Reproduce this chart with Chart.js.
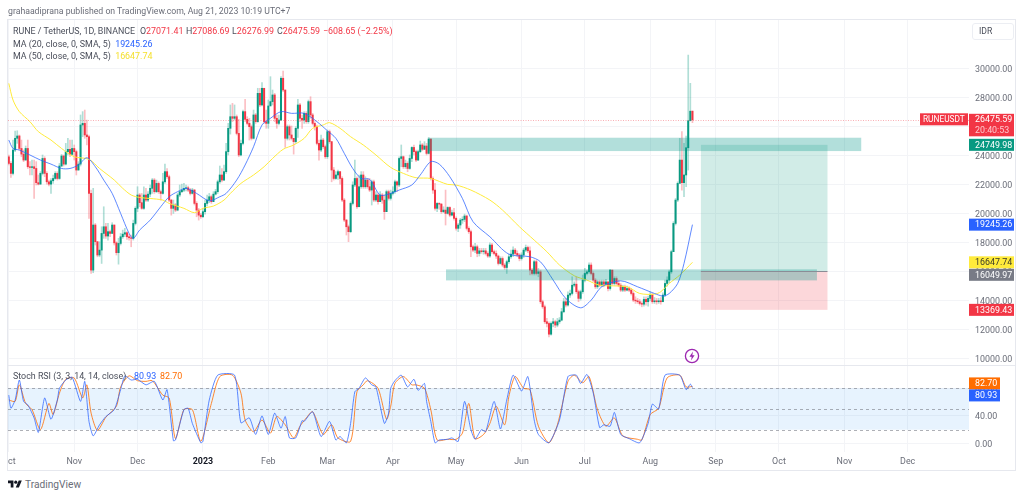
<!DOCTYPE html>
<html><head><meta charset="utf-8">
<script src="https://cdn.jsdelivr.net/npm/chart.js@4/dist/chart.umd.js"></script>
<style>
html,body{margin:0;padding:0;background:#fff;width:1024px;height:497px;overflow:hidden;font-family:Roboto,sans-serif}
canvas{position:absolute;left:8px}
#frame{position:absolute;left:7px;top:19px;width:1009px;height:452px;border:1px solid #e6e8ee;box-sizing:border-box}
#sep{position:absolute;left:7px;top:365px;width:1009px;height:1px;background:#e6e8ee}
.t{position:absolute;white-space:pre;font-size:8.9px;line-height:12px;color:#4a4e5a}
.r{color:#f23645}
#idr{position:absolute;left:972px;top:23px;width:42px;height:17px;border:1px solid #eceef3;border-radius:3px;box-sizing:border-box;font-size:8.6px;line-height:15px;color:#4a4e5a;padding-left:6px}
</style></head><body>
<div id="frame"></div>
<canvas id="top" width="1016" height="366" style="top:0"></canvas>
<canvas id="low" width="1016" height="106" style="top:366px"></canvas>
<div id="sep"></div>
<div class="t" style="left:8px;top:5px;color:#6a6d78;font-size:8.7px">grahaadiprana published on TradingView.com, Aug 21, 2023 10:19 UTC+7</div>
<div class="t" style="left:13px;top:25px">RUNE / TetherUS, 1D, BINANCE</div>
<div class="t" style="left:140px;top:25px">O<span class="r">27071.41</span></div>
<div class="t" style="left:186px;top:25px">H<span class="r">27086.69</span></div>
<div class="t" style="left:232px;top:25px">L<span class="r">26276.99</span></div>
<div class="t" style="left:277px;top:25px">C<span class="r">26475.59</span></div>
<div class="t r" style="left:323px;top:25px">−608.65 (−2.25%)</div>
<div class="t" style="left:13px;top:37.5px">MA (20, close, 0, SMA, 5)  <span style="color:#2962ff">19245.26</span></div>
<div class="t" style="left:13px;top:49.5px">MA (50, close, 0, SMA, 5)  <span style="color:#f5e02e">16647.74</span></div>
<div class="t" style="left:13px;top:370px">Stoch RSI (3, 3, 14, 14, close)</div>
<div class="t" style="left:134px;top:370px;color:#2962ff">80.93</div>
<div class="t" style="left:160px;top:370px;color:#ff6d00">82.70</div>
<div id="idr">IDR</div>
<svg style="position:absolute;left:684px;top:347.5px" width="16" height="16" viewBox="0 0 16 16"><circle cx="8" cy="8" r="6.6" fill="#fff" stroke="#9c27b0" stroke-width="1.3"/><path d="M9 3.6 5.4 8.8h2.3L7 12.4l3.6-5.2H8.3z" fill="#9c27b0"/></svg>
<svg style="position:absolute;left:8px;top:478.5px" width="14" height="11" viewBox="0 0 36 28"><path d="M14 22H7V11H0V4h14v18zM28 22h-8l7.5-18h8L28 22z" fill="#131722"/><circle cx="20" cy="8" r="4" fill="#131722"/></svg>
<div class="t" style="left:25px;top:478.5px;font-size:10.2px;color:#6a6d78">TradingView</div>
<script>
const firstOpen = 23930;
const closes = [
23470,22780,24390,25200,25360,24500,24110,23700,24500,23240,
23190,23240,23120,22140,22040,22780,23810,22780,22200,22040,
22270,22430,22780,22430,23290,23980,23420,24280,24440,24090,
24500,24280,23010,23420,26120,26230,25430,25310,21400,16110,
19220,18070,17150,17490,18640,19100,18460,18760,18640,19220,
17990,17310,17950,18410,18590,18690,18410,18340,18300,19330,
20370,21290,20760,20370,21290,20940,21350,21750,22320,21520,
22090,21520,21400,22200,22900,22550,20940,20370,20600,20250,
21290,21520,21630,21750,21790,21630,21400,21630,20710,20250,
19900,19790,20140,20710,20940,21170,20830,21350,21520,22200,
22670,22320,22900,24280,25890,26690,26580,26690,25540,24050,
24850,27040,26510,26230,26000,25200,26810,26350,28300,27500,
28650,26350,26230,27430,27730,28190,26580,26230,26460,29340,
28530,25200,26000,25430,25200,24970,25890,27500,26580,26460,
26920,26350,27730,26810,26230,26000,24850,24390,25080,24620,
23930,25660,24970,23010,22430,22670,22900,22430,20940,19560,
19100,18760,20710,21980,22430,20480,21860,22670,21860,22320,
21860,21630,22200,20940,21290,20830,21290,20940,20140,21520,
21060,21400,21520,22200,21980,23810,23930,23240,23470,23120,
23810,24570,24280,23700,24280,24740,24440,24670,24160,25150,
22430,21630,20370,20710,20660,20140,20250,20020,20430,19900,
20070,19680,18990,19220,19560,19610,19840,18990,18760,17720,
17490,17720,17260,17440,17380,17440,17260,17080,17840,17380,
17260,17080,16570,16910,16460,16290,16690,17030,17210,17490,
17260,17150,16910,17150,17490,17670,17440,16110,15880,16690,
15880,15990,13930,13580,12550,12430,11690,12430,12550,12320,
12550,12660,13240,13930,13700,14390,14500,15070,15140,14620,
14160,14620,15420,15880,15990,16460,15880,15420,14960,15300,
15070,15300,15140,15300,14840,16110,15190,15530,15190,15070,
14730,14960,14730,14840,14730,14500,14040,13990,13930,13810,
13760,14090,13930,14160,14390,13930,13990,13930,13990,13930,
14390,15190,15420,15990,17380,19330,20940,22090,23700,22140,
22670,24550,26410,27071.41,26475.59];
const highs = [
24050,23590,25080,25700,25720,25430,25080,24390,24670,25080,
23590,23700,23700,23590,22670,22900,24050,23930,22900,22320,
22430,22670,22900,22900,23470,24090,24050,24850,25200,25080,
25080,24740,24390,23590,26810,27040,27150,26460,25430,21630,
21750,19330,18070,18070,19100,20480,19330,19330,18870,19380,
19220,18070,18300,18640,18870,18990,18760,18590,18530,19560,
20480,21860,21400,21400,21860,21750,21520,21980,22430,22430,
22320,22200,21630,22780,23420,23120,22670,20990,20940,20710,
21400,21980,22040,22090,21980,21910,21750,21750,21680,20830,
20370,20020,20370,20940,21290,21400,21290,21520,21680,22320,
23290,23120,23360,24850,26230,27500,27610,27500,26810,26510,
25080,27150,27890,26690,26580,26120,27150,26920,28650,28650,
29040,28650,27150,27840,29450,28530,28300,26810,26810,29450,
29840,28530,26120,26120,26050,25200,26000,27890,27610,26810,
27040,27040,27840,28070,26920,26350,26120,25080,25430,25200,
24740,25770,25770,24970,23190,22900,23010,22900,22550,21050,
19610,19220,20820,22200,23700,22550,22670,22900,22900,22550,
22430,22430,22320,22320,21520,21400,21520,21400,21290,21630,
21630,21630,21860,22320,22270,23930,24740,23980,23700,23590,
24050,24620,24740,24390,24390,25010,24850,24970,24850,25260,
25150,22550,22090,20760,20760,20710,20480,21630,20480,20480,
20250,20370,19790,19330,19680,19790,19970,19900,19100,18870,
17840,17950,17840,17610,17610,17610,17610,17380,18000,17950,
17490,17440,17150,17030,17030,16570,16800,17210,17490,17720,
17610,17440,17260,17310,17610,17840,17770,17720,16230,16800,
16800,16230,16110,14040,13700,12780,12550,12550,12780,12660,
12780,12840,13470,14160,14160,14620,14730,15650,15300,15650,
14730,14730,15770,16230,16110,16620,16620,15990,15530,15420,
15420,15420,15420,15470,15300,16160,16110,15650,15650,15420,
15190,15070,15070,15010,14960,14840,14620,14270,14160,14090,
13930,14270,14270,14320,14620,14500,14220,14160,14160,14220,
14550,15420,15650,16110,17490,19450,21050,22200,25200,25660,
24850,25360,30940,28990,27086.69];
const lows = [
23360,22500,22670,24280,24850,24390,23930,23590,23700,23120,
22670,22670,21050,21980,21980,22040,22670,22550,22040,21910,
21400,22090,22370,22320,22370,23240,23290,23360,24050,23930,
24050,23700,22670,23010,23290,25310,25200,24740,19680,15880,
15930,17840,17030,17030,16570,18300,18300,18180,18410,18640,
17840,17150,16520,17840,18300,18410,18230,18180,17720,18180,
19220,20140,20480,20300,20300,20830,20830,21170,21400,21400,
21450,21400,20940,21350,22090,22430,20830,19900,20020,20140,
20200,21170,21450,21520,21580,21520,21290,21350,20600,19790,
19560,19680,19740,19970,20530,20760,20710,20940,21290,21400,
22090,22200,22270,22780,24050,25490,26350,26460,25430,23930,
23980,24740,26350,26120,25080,25080,25150,26230,26300,27380,
27430,26230,25890,25890,27500,27500,26350,25890,26120,26410,
28420,24570,25080,25080,25080,24110,24850,25260,26350,25890,
26230,26230,26230,26580,26120,25770,24740,23700,24280,24500,
23810,23810,24850,22200,22320,22370,22370,22040,20830,19450,
18530,18070,18690,20600,21860,20370,20830,21750,21750,21750,
21750,21520,20600,20830,20830,20660,20830,20710,19610,20140,
20940,20940,21290,21400,21520,21860,23240,23120,23120,22900,
23060,23590,24050,23590,23650,24210,24340,24440,24050,24110,
22320,21400,20250,20140,20300,20020,20070,19220,19970,19790,
19840,19560,18870,18760,18990,19330,19450,18870,18640,17030,
17380,17310,17030,17080,17260,17210,17150,16980,16980,17260,
17150,16910,16460,16520,16340,16160,15880,16570,16910,17030,
17150,17030,16750,16800,16980,17380,17310,15770,15770,15770,
15770,15650,13810,13470,12430,12200,11510,11630,12200,12150,
12200,12430,12610,13170,13580,13630,14220,14390,14960,14500,
13930,14040,14500,15300,15770,15880,15770,15300,14840,14840,
14960,14960,14960,15070,14680,14730,15070,15070,15070,14960,
14620,14620,14620,14680,14620,14390,13930,13810,13810,13700,
13580,13630,13700,13630,13990,13810,13810,13760,13810,13760,
13990,14270,15010,15240,15880,17380,19220,20830,22140,21630,
21170,21860,23010,26410,26276.99];

const ma20Days = [0,2,5,10,15,20,25,29,33,37,41,45,49,53,57,59,62,67,72,76,80,84,89,95,100,103,108,112,116,120,124,129,134,140,146,151,155,159,163,167,171,176,181,185,191,195,200,204,209,215,220,228,237,247,252,258,264,271,276,281,290,298,306,310,313,317,320,324];
const ma20Values = [25080,24500,24390,24050,23700,23420,23120,23120,23360,23860,23240,22320,21400,20020,18640,18300,18870,19560,20480,21170,21520,21750,21400,20890,21170,21400,22320,23360,24620,26120,26580,27040,26920,26920,26350,25720,25200,24160,23120,22430,22370,21290,21400,21630,21980,22670,23590,23420,22550,21050,19450,18410,17210,17030,16680,15420,14150,13510,14040,14960,15370,14960,14500,14320,14500,15190,16570,19245.26];
const ma50Days = [0,2,5,10,14,20,25,31,38,43,50,54,58,62,67,73,76,83,88,92,97,102,105,110,116,121,125,130,135,140,144,149,152,157,162,168,174,181,187,193,200,208,212,219,228,234,242,249,255,261,268,274,280,293,299,306,309,313,318,324];
const ma50Values = [28990,27840,27040,26350,25660,25080,24500,23930,23750,23120,22320,21750,21290,21120,21050,20940,20710,20370,20070,20370,20530,20940,21400,22090,22670,23240,23810,24440,24740,25200,25890,26120,26280,25890,25310,24740,24050,23190,22780,22480,22430,22020,21980,21630,20940,20250,19100,18180,17380,16460,15720,15420,15070,14960,14500,14450,14620,15190,15770,16647.74];
const kDays = [0,1,3,5,7,9,12,14,17,20,23,24,27,30,34,36,38,40,43,46,50,53,55,58,61,65,69,73,75,78,79,83,85,87,91,92,95,99,107,110,114,117,120,123,126,129,131,133,136,139,140,144,148,152,155,157,160,162,164,166,169,172,174,178,180,181,183,186,189,192,194,197,198,200,202,204,208,210,213,216,219,221,224,226,230,233,236,239,243,246,249,251,256,261,265,269,271,274,277,280,282,285,287,290,294,299,303,305,308,311,318,321,323,324];
const kValues = [70,51,63,92,61,56,37,16,66,35,63,80,92,96,61,90,32,11,27,39,49,78,98,92,93,85,90,63,78,4,5,49,51,29,1,3,63,99,99,30,37,13,40,13,44,22,39,8,8,33,32,46,10,32,5,10,1,29,75,80,95,85,82,29,44,80,91,99,82,93,77,87,61,32,1,5,6,8,3,61,20,6,20,17,61,21,63,99,76,97,34,13,1,34,97,99,87,100,73,23,27,25,45,13,7,1,29,57,50,99,99,78,86,80.93];
const dDays = [0,3,5,8,11,15,19,21,24,27,31,35,37,39,42,46,51,53,57,61,65,68,73,76,79,83,87,91,96,100,106,110,112,116,120,124,127,131,135,138,141,144,149,153,156,162,165,168,170,175,179,181,183,187,191,193,197,200,203,208,212,215,218,221,225,228,231,235,237,240,244,247,251,256,260,265,268,272,275,279,283,287,291,298,300,304,308,312,318,321,324];
const dValues = [63,61,85,58,49,20,58,42,73,93,95,66,85,44,19,38,54,82,98,91,90,91,70,66,7,49,49,3,58,97,99,73,34,17,34,15,39,27,8,25,37,46,13,27,8,3,75,85,91,80,35,54,87,97,85,85,80,49,5,6,6,15,58,7,13,29,54,27,68,97,80,78,25,1,27,90,99,88,97,49,25,37,11,6,5,42,51,95,99,82,82.70];

const monthDays = [0,31,61,92,123,151,182,212,243,273,304,335,365,396,426];
const monthLabels = ['Oct','Nov','Dec','2023','Feb','Mar','Apr','May','Jun','Jul','Aug','Sep','Oct','Nov','Dec'];
const priceTicks = [10000,12000,14000,16000,18000,20000,22000,24000,26000,28000,30000];
const stochTicks = [0,40,80];
const lastPrice = 26475.59, targetPrice = 24749.98, entryPrice = 16049.97, stopPrice = 13369.43, ma20Last = 19245.26, ma50Last = 16647.74;
const zoneA = {from:199,to:404,hi:25240,lo:24320};
const zoneB = {from:207.2,to:383,hi:16160,lo:15400};
const posFrom = 328, posTo = 388;
const stochLevels = [80,50,20];
const kLast = 80.93, dLast = 82.70;

const GREEN='#089981', RED='#f23645', GRID='#f3f4f7', TXT='#6a6d78';
const FONT={family:'Roboto, sans-serif',size:8.9};
const xMin=-0.38, xMax=455.07;
const opens = closes.map((c,i)=> i===0 ? firstOpen : closes[i-1]);
const pts=(d,v)=>d.map((x,i)=>({x,y:v[i]}));
const zero=s=>{s.paddingLeft=0;s.paddingRight=0;s.paddingTop=0;s.paddingBottom=0;};
const xScale=(showLabels)=>({type:'linear',offset:false,min:xMin,max:xMax,
  afterBuildTicks:s=>{s.ticks=monthDays.map(v=>({value:v}));},
  afterFit:s=>{zero(s);s.height=showLabels?19:0;},
  border:{display:false},grid:{offset:false,color:GRID,drawTicks:false,lineWidth:1},
  ticks:{display:showLabels,autoSkip:false,maxRotation:0,minRotation:0,padding:4,
    callback:(v)=>monthLabels[monthDays.indexOf(v)],
    font:c=>({family:FONT.family,size:8.9,weight:(c.tick&&c.tick.value===92)?'bold':'normal'}),
    color:c=>(c.tick&&c.tick.value===92)?'#131722':TXT}});
const yScale=(min,max,t)=>({type:'linear',position:'right',min,max,
  afterBuildTicks:s=>{s.ticks=t.map(v=>({value:v}));},
  afterFit:s=>{zero(s);s.width=47;},
  border:{display:false},grid:{color:GRID,drawTicks:false},
  ticks:{color:TXT,font:FONT,padding:6,labelOffset:1.2,callback:v=>v.toFixed(2),autoSkip:false}});
const base={responsive:false,animation:false,devicePixelRatio:1,events:[],
  plugins:{legend:{display:false},tooltip:{enabled:false}}};

function label(ctx,y,text,bg,fg,w){
  const x=961,h=12;
  ctx.fillStyle=bg;ctx.fillRect(x,y-h/2,w||45,h);
  ctx.fillStyle=fg;ctx.font='8.9px Roboto, sans-serif';ctx.textAlign='left';ctx.textBaseline='middle';
  ctx.fillText(text,x+6,y+0.5);
}
const topOverlay={id:'topOverlay',
  afterDatasetsDraw(c){
    const {ctx,chartArea:a,scales:{x,y}}=c;
    ctx.save();ctx.beginPath();ctx.rect(a.left,a.top,a.right-a.left,a.bottom-a.top);ctx.clip();
    const box=(f,t,hi,lo,col)=>{ctx.fillStyle=col;ctx.fillRect(x.getPixelForValue(f),y.getPixelForValue(hi),x.getPixelForValue(t)-x.getPixelForValue(f),y.getPixelForValue(lo)-y.getPixelForValue(hi));};
    box(posFrom,posTo,targetPrice,entryPrice,'rgba(8,153,129,0.19)');
    box(posFrom,posTo,entryPrice,stopPrice,'rgba(242,54,69,0.2)');
    box(zoneA.from,zoneA.to,zoneA.hi,zoneA.lo,'rgba(0,150,136,0.3)');
    box(zoneB.from,zoneB.to,zoneB.hi,zoneB.lo,'rgba(0,150,136,0.3)');
    ctx.strokeStyle='#8a8d96';ctx.lineWidth=1;ctx.beginPath();
    const ey=Math.round(y.getPixelForValue(entryPrice))+0.5;
    ctx.moveTo(x.getPixelForValue(posFrom),ey);ctx.lineTo(x.getPixelForValue(posTo),ey);ctx.stroke();
    ctx.strokeStyle='rgba(242,54,69,0.4)';ctx.setLineDash([1,1.5]);ctx.beginPath();
    const ly=Math.round(y.getPixelForValue(lastPrice))+0.5;
    ctx.moveTo(a.left,ly);ctx.lineTo(a.right,ly);ctx.stroke();ctx.setLineDash([]);
    ctx.restore();
  },
  afterDraw(c){
    const {ctx,scales:{y}}=c;
    ctx.save();
    const ly=y.getPixelForValue(lastPrice);
    ctx.fillStyle=RED;ctx.fillRect(912,ly-6.5,48,12);
    ctx.fillStyle='#fff';ctx.font='8.3px Roboto, sans-serif';ctx.textAlign='left';ctx.textBaseline='middle';
    ctx.fillText('RUNEUSDT',915,ly);
    ctx.font='8.9px Roboto, sans-serif';
    ctx.fillStyle=RED;ctx.fillRect(961,ly-6,45,22.5);
    ctx.fillStyle='#fff';ctx.fillText(lastPrice.toFixed(2),967,ly);
    ctx.fillStyle='#ffc9ce';ctx.fillText('20:40:53',967,ly+10.5);
    label(ctx,y.getPixelForValue(targetPrice),targetPrice.toFixed(2),GREEN,'#fff');
    label(ctx,y.getPixelForValue(ma20Last),ma20Last.toFixed(2),'#2962ff','#fff');
    label(ctx,y.getPixelForValue(ma50Last),ma50Last.toFixed(2),'#ffeb3b','#3a3a2a');
    label(ctx,y.getPixelForValue(ma50Last)+12.5,entryPrice.toFixed(2),'#787b86','#fff');
    label(ctx,y.getPixelForValue(stopPrice),stopPrice.toFixed(2),RED,'#fff');
    ctx.restore();
  }};
const lowOverlay={id:'lowOverlay',
  beforeDatasetsDraw(c){
    const {ctx,chartArea:a,scales:{y}}=c;
    ctx.save();
    const t=y.getPixelForValue(stochLevels[0]),b=y.getPixelForValue(stochLevels[2]);
    ctx.fillStyle='rgba(33,150,243,0.11)';ctx.fillRect(a.left,t,a.right-a.left,b-t);
    ctx.strokeStyle='rgba(120,123,134,0.6)';ctx.lineWidth=1;ctx.setLineDash([3,3]);
    stochLevels.forEach(l=>{const p=Math.round(y.getPixelForValue(l))+0.5;ctx.beginPath();ctx.moveTo(a.left,p);ctx.lineTo(a.right,p);ctx.stroke();});
    ctx.restore();
  },
  afterDraw(c){
    const {ctx,scales:{y}}=c;
    label(ctx,y.getPixelForValue(dLast)-3,dLast.toFixed(2),'#ff6d00','#fff',31);
    label(ctx,y.getPixelForValue(dLast)+9,kLast.toFixed(2),'#2962ff','#fff',31);
  }};

const up=closes.map((c,i)=>c>=opens[i]);
new Chart(document.getElementById('top'),{
  type:'bar',
  data:{datasets:[
    {type:'line',order:0,data:pts(ma20Days,ma20Values),borderColor:'rgba(41,98,255,0.75)',borderWidth:1,pointRadius:0,tension:0.3},
    {type:'line',order:0,data:pts(ma50Days,ma50Values),borderColor:'#ffeb3b',borderWidth:1,pointRadius:0,tension:0.3},
    {type:'bar',order:1,grouped:false,barThickness:1.35,borderSkipped:false,borderWidth:0,
      data:closes.map((c,i)=>({x:i,y:[Math.min(c,opens[i]),Math.max(c,opens[i])]})),
      backgroundColor:up.map(u=>u?GREEN:RED)},
    {type:'bar',order:2,grouped:false,barThickness:1,borderSkipped:false,borderWidth:0,
      data:closes.map((c,i)=>({x:i,y:[lows[i],highs[i]]})),
      backgroundColor:up.map(u=>u?'rgba(8,153,129,0.32)':'rgba(242,54,69,0.32)')}
  ]},
  options:{...base,layout:{padding:{left:0,right:8,top:20,bottom:1}},
    scales:{x:xScale(false),y:yScale(9566,33359,priceTicks)}},
  plugins:[topOverlay]
});
new Chart(document.getElementById('low'),{
  type:'line',
  data:{datasets:[
    {data:pts(kDays,kValues),borderColor:'rgba(41,98,255,0.75)',borderWidth:1,pointRadius:0,tension:0.2},
    {data:pts(dDays,dValues),borderColor:'rgba(255,109,0,0.8)',borderWidth:1,pointRadius:0,tension:0.25}
  ]},
  options:{...base,layout:{padding:{left:0,right:8,top:0,bottom:1}},
    scales:{x:xScale(true),y:yScale(-12.4,112.3,stochTicks)}},
  plugins:[lowOverlay]
});
</script>
</body></html>
